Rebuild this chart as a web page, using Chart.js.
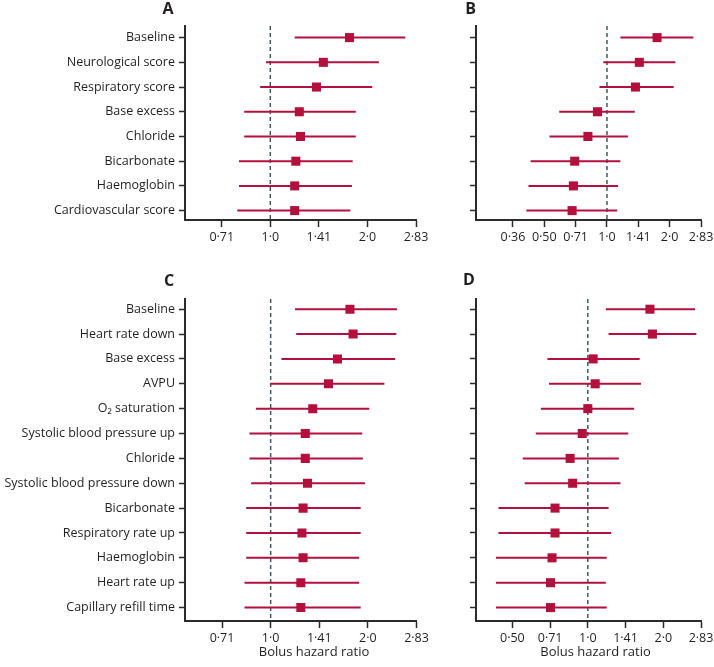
<!DOCTYPE html>
<html>
<head>
<meta charset="utf-8">
<script src="https://cdn.jsdelivr.net/npm/chart.js@4.4.0/dist/chart.umd.min.js"></script>
<style>
  body { margin: 0; background: #fff; }
  #wrap { position: relative; width: 714px; height: 667px; }
  canvas { position: absolute; }
</style>
</head>
<body>
<div id="wrap">
  <canvas id="chartA" style="left:0;top:0" width="440" height="262"></canvas>
  <canvas id="chartB" style="left:440px;top:0" width="274" height="262"></canvas>
  <canvas id="chartC" style="left:0;top:270px" width="440" height="397"></canvas>
  <canvas id="chartD" style="left:440px;top:270px" width="274" height="397"></canvas>
</div>
<script>
// row labels
const labelsAB = ['Baseline', 'Neurological score', 'Respiratory score', 'Base excess', 'Chloride', 'Bicarbonate', 'Haemoglobin', 'Cardiovascular score'];
const labelsCD = ['Baseline', 'Heart rate down', 'Base excess', 'AVPU', 'O\u2082 saturation', 'Systolic blood pressure up', 'Chloride', 'Systolic blood pressure down', 'Bicarbonate', 'Respiratory rate up', 'Haemoglobin', 'Heart rate up', 'Capillary refill time'];

// hazard ratios with lower / upper limits
const hrA = [1.76, 1.46, 1.39, 1.23, 1.24, 1.20, 1.19, 1.19];
const loA = [1.19, 0.97, 0.93, 0.83, 0.83, 0.80, 0.80, 0.79];
const hiA = [2.62, 2.17, 2.07, 1.84, 1.84, 1.80, 1.79, 1.77];

const hrB = [1.74, 1.43, 1.37, 0.90, 0.81, 0.70, 0.69, 0.68];
const loB = [1.16, 0.96, 0.92, 0.59, 0.53, 0.43, 0.42, 0.41];
const hiB = [2.60, 2.13, 2.09, 1.36, 1.26, 1.16, 1.13, 1.12];

const hrC = [1.76, 1.80, 1.61, 1.51, 1.35, 1.28, 1.28, 1.30, 1.26, 1.25, 1.26, 1.24, 1.24];
const loC = [1.19, 1.20, 1.08, 1.00, 0.90, 0.86, 0.86, 0.87, 0.84, 0.84, 0.84, 0.83, 0.83];
const hiC = [2.46, 2.45, 2.43, 2.25, 2.02, 1.92, 1.93, 1.96, 1.90, 1.90, 1.88, 1.88, 1.90];

const hrD = [1.77, 1.81, 1.05, 1.07, 1.00, 0.95, 0.85, 0.87, 0.74, 0.74, 0.72, 0.71, 0.71];
const loD = [1.18, 1.21, 0.69, 0.70, 0.65, 0.62, 0.55, 0.56, 0.44, 0.44, 0.43, 0.43, 0.43];
const hiD = [2.68, 2.71, 1.61, 1.63, 1.53, 1.45, 1.33, 1.35, 1.21, 1.24, 1.19, 1.18, 1.19];

// x axis ticks (log2 spaced)
const tickValsAC = [0.7071, 1, 1.4142, 2, 2.8284];
const tickLabelsAC = ['0·71', '1·0', '1·41', '2·0', '2·83'];
const tickValsB = [0.3536, 0.5, 0.7071, 1, 1.4142, 2, 2.8284];
const tickLabelsB = ['0·36', '0·50', '0·71', '1·0', '1·41', '2·0', '2·83'];
const tickValsD = [0.5, 0.7071, 1, 1.4142, 2, 2.8284];
const tickLabelsD = ['0·50', '0·71', '1·0', '1·41', '2·0', '2·83'];

const RED = '#b3103d';
const AXIS = '#2b2b2b';
const TEXT = '#231f20';
const FONT = '"Open Sans"';

// dashed line at HR = 1
const refLine = {
    id: 'refLine',
    beforeDatasetsDraw(chart) {
        const { ctx, chartArea } = chart;
        const x = chart.scales.x.getPixelForValue(1);
        ctx.save();
        ctx.strokeStyle = '#3d5969';
        ctx.lineWidth = 1.5;
        ctx.setLineDash([4, 3]);
        ctx.beginPath();
        ctx.moveTo(x, chartArea.top);
        ctx.lineTo(x, chartArea.bottom);
        ctx.stroke();
        ctx.restore();
    }
};

// panel letter + axis title
const panelText = {
    id: 'panelText',
    afterDraw(chart, args, opts) {
        const ctx = chart.ctx;
        ctx.save();
        ctx.fillStyle = TEXT;
        ctx.textAlign = 'center';
        ctx.textBaseline = 'alphabetic';
        ctx.font = 'bold 16px ' + FONT;
        ctx.fillText(opts.letter, opts.letterX, opts.letterY);
        if (opts.title) {
            ctx.font = '13px ' + FONT;
            ctx.fillText(opts.title, opts.titleX, opts.titleY);
        }
        ctx.restore();
    }
};

function makePanel(canvasId, p) {
    const points = p.hr.map((v, i) => ({ x: v, y: i }));
    const ci = [];
    p.hr.forEach((v, i) => {
        ci.push({ x: p.lo[i], y: i }, { x: p.hi[i], y: i }, { x: null, y: null });
    });

    new Chart(document.getElementById(canvasId), {
        type: 'scatter',
        data: {
            datasets: [
                { data: points, pointStyle: 'rect', pointRadius: 6.4, backgroundColor: RED, borderWidth: 0 },
                { data: ci, showLine: true, spanGaps: false, borderColor: RED, borderWidth: 2, pointRadius: 0 }
            ]
        },
        options: {
            responsive: false,
            animation: false,
            events: [],
            layout: { padding: p.padding },
            plugins: {
                legend: { display: false },
                tooltip: { enabled: false },
                panelText: { letter: p.letter, letterX: p.letterX, letterY: p.letterY, title: p.title, titleX: p.titleX, titleY: p.titleY }
            },
            scales: {
                x: {
                    type: 'logarithmic',
                    min: p.xMin,
                    max: 2.8284,
                    bounds: 'data',
                    afterBuildTicks: s => { s.ticks = p.tickVals.map(v => ({ value: v })); },
                    afterFit: s => { s.height = p.xHeight; s.paddingLeft = 0; s.paddingRight = 0; },
                    grid: { drawOnChartArea: false, tickLength: 7, tickWidth: 1.5, tickColor: AXIS },
                    border: { display: true, color: AXIS, width: 2 },
                    ticks: {
                        autoSkip: false, maxRotation: 0, padding: 3, color: TEXT,
                        font: { family: FONT, size: 12.5 },
                        callback: (v, i) => p.tickLabels[i]
                    }
                },
                y: {
                    type: 'linear',
                    reverse: true,
                    min: p.yMin,
                    max: p.yMax,
                    bounds: 'data',
                    afterBuildTicks: s => { s.ticks = p.labels.map((_, i) => ({ value: i })); },
                    afterFit: s => { s.width = p.yWidth; s.paddingTop = 0; s.paddingBottom = 0; },
                    grid: { drawOnChartArea: false, tickLength: 6, tickWidth: 1.5, tickColor: AXIS },
                    border: { display: true, color: AXIS, width: 2 },
                    ticks: {
                        autoSkip: false, padding: 4, color: TEXT,
                        font: { family: FONT, size: 12.5 },
                        callback: (v, i) => p.showLabels ? p.labels[i] : ''
                    }
                }
            }
        },
        plugins: [refLine, panelText]
    });
}

makePanel('chartA', {
    labels: labelsAB, hr: hrA, lo: loA, hi: hiA, showLabels: true,
    tickVals: tickValsAC, tickLabels: tickLabelsAC, xMin: 0.544,
    yMin: -0.47, yMax: 7.38, yWidth: 185, xHeight: 42,
    padding: { top: 26, right: 24, left: 0, bottom: 0 },
    letter: 'A', letterX: 168, letterY: 13.5
});
makePanel('chartB', {
    labels: labelsAB, hr: hrB, lo: loB, hi: hiB, showLabels: false,
    tickVals: tickValsB, tickLabels: tickLabelsB, xMin: 0.235,
    yMin: -0.47, yMax: 7.38, yWidth: 36, xHeight: 42,
    padding: { top: 26, right: 13, left: 0, bottom: 0 },
    letter: 'B', letterX: 30.5, letterY: 13.5
});
makePanel('chartC', {
    labels: labelsCD, hr: hrC, lo: loC, hi: hiC, showLabels: true,
    tickVals: tickValsAC, tickLabels: tickLabelsAC, xMin: 0.543,
    yMin: -0.41, yMax: 12.54, yWidth: 185, xHeight: 46,
    padding: { top: 29, right: 23.5, left: 0, bottom: 0 },
    letter: 'C', letterX: 169, letterY: 16,
    title: 'Bolus hazard ratio', titleX: 314, titleY: 386
});
makePanel('chartD', {
    labels: labelsCD, hr: hrD, lo: loD, hi: hiD, showLabels: false,
    tickVals: tickValsD, tickLabels: tickLabelsD, xMin: 0.358,
    yMin: -0.41, yMax: 12.54, yWidth: 36, xHeight: 46,
    padding: { top: 29, right: 13, left: 0, bottom: 0 },
    letter: 'D', letterX: 29, letterY: 15,
    title: 'Bolus hazard ratio', titleX: 155.5, titleY: 386
});
</script>
</body>
</html>
